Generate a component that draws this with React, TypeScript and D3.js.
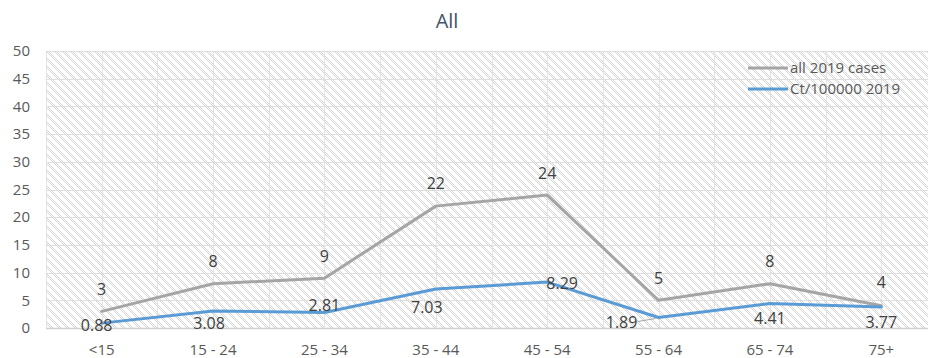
import React from "react";
import * as d3 from "d3";

const categories = ["<15", "15 - 24", "25 - 34", "35 - 44", "45 - 54", "55 - 64", "65 - 74", "75+"];
const allCases = [3, 8, 9, 22, 24, 5, 8, 4];
const ctRate = [0.88, 3.08, 2.81, 7.03, 8.29, 1.89, 4.41, 3.77];
const yTicks = [0, 5, 10, 15, 20, 25, 30, 35, 40, 45, 50];
const seriesNames = ["all 2019 cases", "Ct/100000 2019"];
const title = "All";

// label offsets (style, relative to point): [dx, dy]
const allLabelOffsets: [number, number][] = [
  [0, -22], [0, -22], [0, -22], [0, -23], [0, -22], [0, -22], [0, -22], [0, -23],
];
const ctLabelOffsets: [number, number][] = [
  [-5, 2], [-4, 12], [0, -7], [-9, 18], [15, 1], [-37, 5], [0, 15], [0, 15],
];

const W = 928;
const H = 358;
const FONT = "'Open Sans', 'DejaVu Sans', sans-serif";

export default function App() {
  const left = 46;
  const right = 937;
  const top = 51;
  const bottom = 328;
  const x = d3.scalePoint<string>().domain(categories).range([left, right]).padding(0.5);
  const y = d3.scaleLinear().domain([0, 50]).range([bottom, top]);
  const step = x.step();

  const line = d3
    .line<number>()
    .x((_, i) => x(categories[i]) as number)
    .y((d) => y(d));

  const vLines: number[] = [];
  for (let k = 0; k <= 16; k++) {
    const vx = left + (k * step) / 2;
    if (vx <= W + 1) vLines.push(vx);
  }

  // hatch pattern pixels
  const pix: [number, number][] = [];
  for (let py = 0; py < 8; py++) {
    for (let px = 0; px < 8; px++) {
      const d = (((px - py) % 8) + 8) % 8;
      if ((d === 0 || d === 1 || d === 2) && (px + py) % 2 === 0) pix.push([px, py]);
    }
  }

  const grayColor = "#a5a5a5";
  const blueColor = "#5b9bd5";

  const p55x = x(categories[5]) as number;
  const p55y = y(ctRate[5]);

  return (
    <svg
      width={W}
      height={H}
      style={{ position: "absolute", left: 0, top: 0, background: "#fff" }}
      fontFamily={FONT}
    >
      <defs>
        <pattern id="hatch" width={8} height={8} patternUnits="userSpaceOnUse" x={left} y={top}>
          <rect width={8} height={8} fill="#ffffff" />
          {pix.map(([px, py], i) => (
            <rect key={i} x={px} y={py} width={1} height={1} fill="#d6d6d6" />
          ))}
        </pattern>
      </defs>
      <rect x={left} y={top} width={right - left} height={bottom - top} fill="url(#hatch)" shapeRendering="crispEdges" />
      {vLines.map((vx, i) => (
        <line key={"v" + i} x1={Math.round(vx) + 0.5} x2={Math.round(vx) + 0.5} y1={top} y2={bottom} stroke="#e3e3e3" strokeWidth={1} />
      ))}
      {yTicks.map((t) => (
        <line
          key={"h" + t}
          x1={left}
          x2={right}
          y1={Math.round(y(t)) + 0.5}
          y2={Math.round(y(t)) + 0.5}
          stroke={t === 0 ? "#d0d0d0" : "#dedede"}
          strokeWidth={t === 0 ? 1.5 : 1}
        />
      ))}
      {yTicks.map((t) => (
        <text key={"yt" + t} x={30} y={y(t)} dy="0.35em" textAnchor="end" fontSize={15} fill="#595959">
          {t}
        </text>
      ))}
      {categories.map((c) => (
        <text key={"xt" + c} x={x(c) as number} y={350} dy="0.35em" textAnchor="middle" fontSize={15} fill="#595959">
          {c}
        </text>
      ))}
      <text x={447} y={21} dy="0.35em" textAnchor="middle" fontSize={20} fill="#44546a">
        {title}
      </text>
      <path d={line(allCases) || ""} fill="none" stroke={grayColor} strokeWidth={3} strokeLinejoin="round" strokeLinecap="round" />
      <path d={line(ctRate) || ""} fill="none" stroke={blueColor} strokeWidth={3} strokeLinejoin="round" strokeLinecap="round" />
      <line x1={p55x - 21} y1={p55y + 4} x2={p55x - 3} y2={p55y + 1} stroke="#a6a6a6" strokeWidth={1} />
      {allCases.map((v, i) => (
        <text
          key={"la" + i}
          x={(x(categories[i]) as number) + allLabelOffsets[i][0]}
          y={y(v) + allLabelOffsets[i][1]}
          dy="0.35em"
          textAnchor="middle"
          fontSize={16}
          fill="#404040"
        >
          {v}
        </text>
      ))}
      {ctRate.map((v, i) => (
        <text
          key={"lc" + i}
          x={(x(categories[i]) as number) + ctLabelOffsets[i][0]}
          y={y(v) + ctLabelOffsets[i][1]}
          dy="0.35em"
          textAnchor="middle"
          fontSize={16}
          fill="#404040"
        >
          {v.toFixed(2)}
        </text>
      ))}
      {seriesNames.map((n, i) => (
        <g key={"lg" + i}>
          <line x1={748} x2={788} y1={68 + i * 21} y2={68 + i * 21} stroke={i === 0 ? grayColor : blueColor} strokeWidth={3} />
          <text x={790} y={68 + i * 21} dy="0.35em" fontSize={15} fill="#595959">
            {n}
          </text>
        </g>
      ))}
    </svg>
  );
}
